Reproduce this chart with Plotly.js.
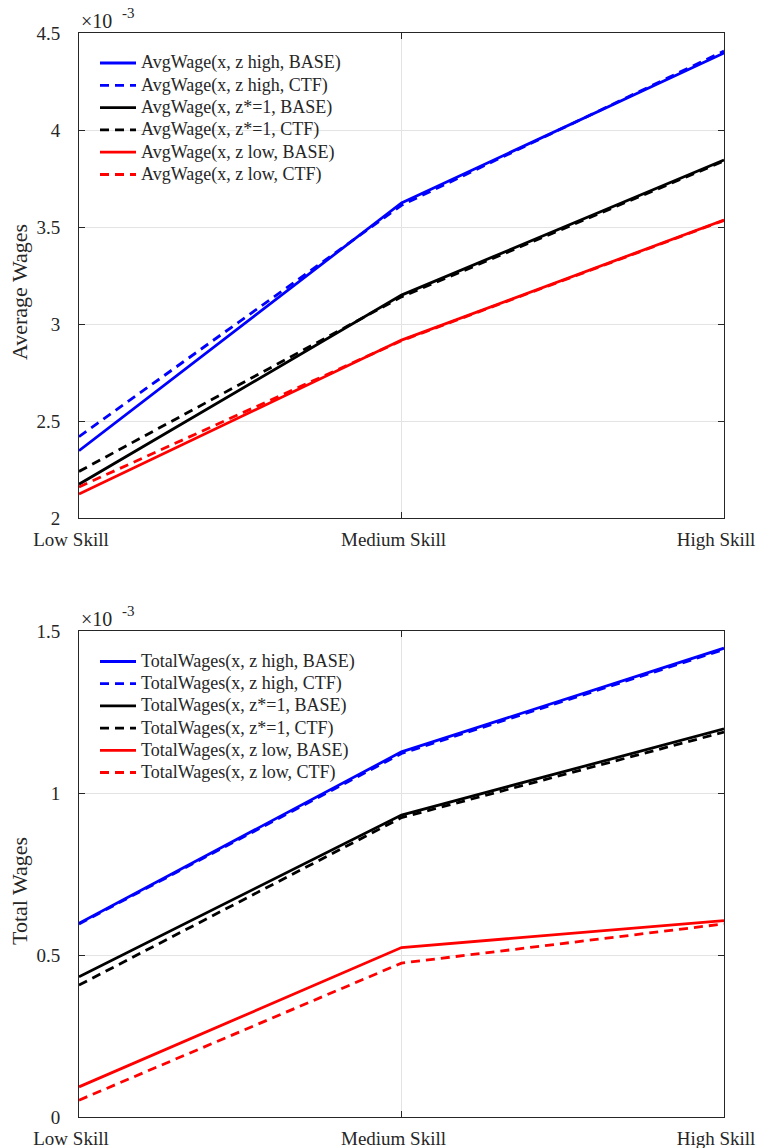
<!DOCTYPE html>
<html>
<head>
<meta charset="utf-8">
<script src="https://cdn.plot.ly/plotly-3.0.1.min.js"></script>
<style>
  html, body { margin: 0; padding: 0; background: #ffffff; }
  #chart { width: 760px; height: 1148px; }
</style>
</head>
<body>
<div id="chart"></div>
<script>
// Skill groups along the x axis
const skillLevels = [0, 1, 2];
const skillLabels = ['Low Skill', 'Medium Skill', 'High Skill'];

// Average wages (units of 1e-3)
const avgHighBase = [2.347, 3.624, 4.397];
const avgHighCtf  = [2.419, 3.612, 4.407];
const avgOneBase  = [2.174, 3.149, 3.845];
const avgOneCtf   = [2.240, 3.140, 3.840];
const avgLowBase  = [2.124, 2.917, 3.536];
const avgLowCtf   = [2.160, 2.914, 3.534];

// Total wages (units of 1e-3)
const totHighBase = [0.598, 1.127, 1.447];
const totHighCtf  = [0.596, 1.122, 1.443];
const totOneBase  = [0.433, 0.932, 1.198];
const totOneCtf   = [0.407, 0.924, 1.188];
const totLowBase  = [0.093, 0.523, 0.606];
const totLowCtf   = [0.052, 0.475, 0.596];

// Legend entries for each panel
const avgNames = ['AvgWage(x, z high, BASE)', 'AvgWage(x, z high, CTF)',
                  'AvgWage(x, z*=1, BASE)', 'AvgWage(x, z*=1, CTF)',
                  'AvgWage(x, z low, BASE)', 'AvgWage(x, z low, CTF)'];
const totNames = ['TotalWages(x, z high, BASE)', 'TotalWages(x, z high, CTF)',
                  'TotalWages(x, z*=1, BASE)', 'TotalWages(x, z*=1, CTF)',
                  'TotalWages(x, z low, BASE)', 'TotalWages(x, z low, CTF)'];

const BLUE = '#0000ff', BLACK = '#000000', RED = '#ff0000';
const seriesColors = [BLUE, BLUE, BLACK, BLACK, RED, RED];
const seriesDashed = [false, true, false, true, false, true];
const DASH = '9px,6px';
const LW = 2.8;
const FONT = "'Liberation Serif', 'Times New Roman', serif";
const TXT = '#262626';

// Page geometry (pixels) used to place the panels and their decorations
const W = 760, H = 1148;
const M = { l: 79, r: 36, t: 33, b: 31 };
const plotW = W - M.l - M.r, plotH = H - M.t - M.b;
const px = (x) => (x - M.l) / plotW;          // pixel -> paper x
const py = (y) => (H - M.b - y) / plotH;      // pixel -> paper y

function line(y, i, names, xa, ya) {
  return {
    x: skillLevels, y: y, name: names[i], type: 'scatter', mode: 'lines',
    line: { color: seriesColors[i], width: LW, dash: seriesDashed[i] ? DASH : 'solid' },
    xaxis: xa, yaxis: ya, showlegend: false, hoverinfo: 'skip'
  };
}

const avgSeries = [avgHighBase, avgHighCtf, avgOneBase, avgOneCtf, avgLowBase, avgLowCtf];
const totSeries = [totHighBase, totHighCtf, totOneBase, totOneCtf, totLowBase, totLowCtf];

const traces = [];
avgSeries.forEach((s, i) => traces.push(line(s, i, avgNames, 'x', 'y')));
totSeries.forEach((s, i) => traces.push(line(s, i, totNames, 'x2', 'y2')));

function xAxis(anchor) {
  return {
    anchor: anchor, domain: [0, 1], range: [0, 2],
    tickvals: skillLevels, ticktext: skillLabels,
    showgrid: true, gridcolor: '#e3e3e3', gridwidth: 1,
    showline: true, linecolor: TXT, linewidth: 1, mirror: 'ticks',
    ticks: 'inside', ticklen: 6, tickcolor: TXT,
    ticklabelstandoff: 4, ticklabelshift: -8, ticklabeloverflow: 'allow',
    tickfont: { family: FONT, size: 19, color: TXT },
    zeroline: false, fixedrange: true
  };
}

function yAxis(anchor, domain, range, dtick) {
  return {
    anchor: anchor, domain: domain, range: range, dtick: dtick, tick0: 0,
    showgrid: true, gridcolor: '#e3e3e3', gridwidth: 1,
    showline: true, linecolor: TXT, linewidth: 1, mirror: 'ticks',
    ticks: 'inside', ticklen: 6, tickcolor: TXT,
    ticklabelstandoff: 14,
    tickfont: { family: FONT, size: 19, color: TXT },
    zeroline: false, fixedrange: true
  };
}

const annotations = [];
const shapes = [];

// Axis titles
function yTitle(text, yPix) {
  annotations.push({
    xref: 'paper', yref: 'paper', x: px(19), y: py(yPix),
    xanchor: 'center', yanchor: 'middle', textangle: -90, showarrow: false,
    text: text, font: { family: FONT, size: 22, color: TXT }
  });
}
yTitle('Average Wages', 292);
yTitle('Total Wages', 891);

// Scale factor above each panel
function exponent(topPix) {
  annotations.push({
    xref: 'paper', yref: 'paper', x: px(79), y: py(topPix - 12),
    xanchor: 'left', yanchor: 'middle', showarrow: false,
    text: '×10', font: { family: FONT, size: 20, color: TXT }
  });
  annotations.push({
    xref: 'paper', yref: 'paper', x: px(120), y: py(topPix - 20),
    xanchor: 'left', yanchor: 'middle', showarrow: false,
    text: '-3', font: { family: FONT, size: 15, color: TXT }
  });
}
exponent(33);
exponent(631);

// Legend blocks: sample line plus label per series
function legendBlock(names, firstRowPix, rowStep) {
  names.forEach((name, i) => {
    const yr = py(firstRowPix + i * rowStep);
    shapes.push({
      type: 'line', xref: 'paper', yref: 'paper',
      x0: px(100), x1: px(136), y0: yr, y1: yr,
      line: { color: seriesColors[i], width: LW, dash: seriesDashed[i] ? DASH : 'solid' }
    });
    annotations.push({
      xref: 'paper', yref: 'paper', x: px(139), y: yr,
      xanchor: 'left', yanchor: 'middle', showarrow: false,
      text: name, font: { family: FONT, size: 18, color: TXT }
    });
  });
}
legendBlock(avgNames, 63, 22.3);
legendBlock(totNames, 661.5, 22.2);

const layout = {
  width: W, height: H,
  margin: M,
  paper_bgcolor: '#ffffff', plot_bgcolor: '#ffffff',
  showlegend: false,
  xaxis: xAxis('y'),
  yaxis: yAxis('x', [py(518), 1], [2, 4.5], 0.5),
  xaxis2: xAxis('y2'),
  yaxis2: yAxis('x2', [0, py(631)], [0, 1.5], 0.5),
  annotations: annotations,
  shapes: shapes
};

Plotly.newPlot('chart', traces, layout, { staticPlot: true, displayModeBar: false });
</script>
</body>
</html>
